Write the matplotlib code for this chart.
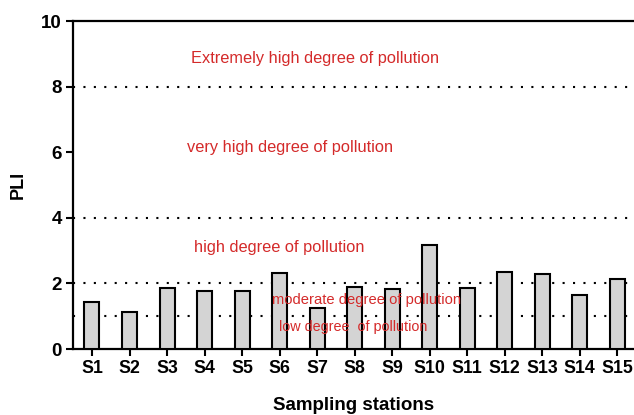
import matplotlib
matplotlib.use('Agg')
import matplotlib.pyplot as plt
import numpy as np

plt.rcParams['font.family'] = ['Liberation Sans', 'DejaVu Sans']

stations = ['S1', 'S2', 'S3', 'S4', 'S5', 'S6', 'S7', 'S8', 'S9', 'S10',
            'S11', 'S12', 'S13', 'S14', 'S15']
pli = [1.44, 1.12, 1.87, 1.77, 1.77, 2.33, 1.26, 1.89, 1.82, 3.17,
       1.85, 2.35, 2.30, 1.65, 2.13]
thresholds = [1, 2, 4, 8]
zone_labels = ['Extremely high degree of pollution', 'very high degree of pollution',
               'high degree of pollution', 'moderate degree of pollution',
               'low degree  of pollution']
zone_y = [8.85, 6.15, 3.1, 1.5, 0.68]
zone_x = [5.95, 5.28, 5.0, 7.33, 6.97]
zone_size = [11.8, 11.8, 11.8, 10.6, 10.4]
yticks = [0, 2, 4, 6, 8, 10]

fig = plt.figure(figsize=(6.34, 4.15), dpi=100)
ax = fig.add_axes([0.1151, 0.159, 0.885, 0.790])

x = np.arange(len(stations))
ax.bar(x, pli, width=0.4, color='#d4d4d4', edgecolor='black', linewidth=1.5, zorder=3)

for t in thresholds:
    ax.axhline(t, color='black', linestyle=(0, (1, 4)), linewidth=1.5, zorder=2)

red = '#d42a2a'
for lab, xx, yy, fs in zip(zone_labels, zone_x, zone_y, zone_size):
    ax.text(xx, yy, lab, color=red, fontsize=fs, ha='center', va='center', zorder=4)

ax.set_xlim(-0.507, 14.45)
ax.set_ylim(0, 10)
ax.set_yticks(yticks)
ax.set_xticks(x)
ax.set_xticklabels(stations)

for lbl in ax.get_xticklabels():
    lbl.set_fontweight('bold')
    lbl.set_fontsize(12.8)
for lbl in ax.get_yticklabels():
    lbl.set_fontweight('bold')
    lbl.set_fontsize(13.5)

ax.tick_params(axis='both', direction='out', length=5, width=1.5, pad=3)
for s in ['left', 'bottom', 'top']:
    ax.spines[s].set_linewidth(1.6)
ax.spines['right'].set_visible(False)

ax.set_ylabel('PLI', fontsize=13, fontweight='bold', labelpad=10)
ax.set_xlabel('Sampling stations', fontsize=13.5, fontweight='bold', labelpad=14)

fig.savefig('out.png', dpi=100)
